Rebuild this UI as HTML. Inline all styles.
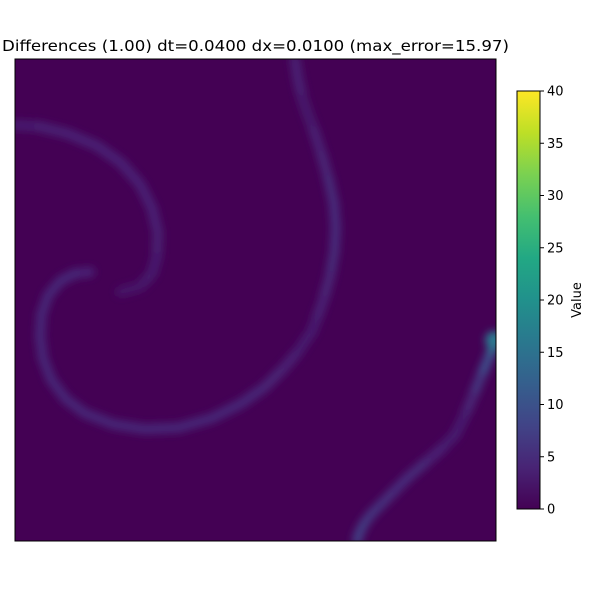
<!DOCTYPE html>
<html><head><meta charset="utf-8"><style>
body{margin:0;background:#fff;font-family:"DejaVu Sans","Liberation Sans",sans-serif}
</style></head><body>
<svg id="chart" width="600" height="600" viewBox="0 0 600 600" xmlns="http://www.w3.org/2000/svg" font-family="DejaVu Sans, Liberation Sans, sans-serif">
<defs>
<filter id="blur" x="-20%" y="-20%" width="140%" height="140%"><feGaussianBlur stdDeviation="4"/></filter>
<clipPath id="plotclip"><rect x="15" y="59" width="481" height="482"/></clipPath>
<linearGradient id="viridis" x1="0" y1="1" x2="0" y2="0">
<stop offset="0" stop-color="#440154"/><stop offset="0.1" stop-color="#482475"/><stop offset="0.2" stop-color="#414487"/>
<stop offset="0.3" stop-color="#355f8d"/><stop offset="0.4" stop-color="#2a788e"/><stop offset="0.5" stop-color="#21918c"/>
<stop offset="0.6" stop-color="#22a884"/><stop offset="0.7" stop-color="#44bf70"/><stop offset="0.8" stop-color="#7ad151"/>
<stop offset="0.9" stop-color="#bddf26"/><stop offset="1" stop-color="#fde725"/></linearGradient>
</defs>
<text x="2" y="51" font-size="15" textLength="507" lengthAdjust="spacingAndGlyphs" fill="#000">Differences (1.00) dt=0.0400 dx=0.0100 (max_error=15.97)</text>
<rect x="15" y="59" width="481" height="482" fill="#440154"/>
<g id="marks" clip-path="url(#plotclip)"><g id="marksblur" filter="url(#blur)"></g></g>
<rect x="15" y="59" width="481" height="482" fill="none" stroke="#000" stroke-width="1"/>
<rect x="517" y="91" width="23" height="418" fill="url(#viridis)" stroke="#000" stroke-width="1"/>
<g id="cbticks"></g>
<text transform="translate(581,300) rotate(-90)" font-size="13" text-anchor="middle">Value</text>
</svg>
<script>
// curves in plot-fraction coordinates (x from left, y from top) with field values
const curveA_x=[0,0.05,0.11,0.17,0.22,0.26,0.285,0.297,0.295,0.285,0.26,0.22];
const curveA_y=[0.137,0.140,0.155,0.180,0.215,0.26,0.31,0.36,0.41,0.445,0.472,0.483];
const curveA_v=[3,3.5,4,4,4,4,4,3.8,3.5,3.2,2.8,2.2];
const curveB_x=[0.156,0.125,0.095,0.069,0.055,0.052,0.058,0.075,0.105,0.145,0.205,0.27,0.34,0.41,0.47,0.52,0.56,0.59,0.61];
const curveB_y=[0.442,0.445,0.460,0.490,0.530,0.575,0.620,0.665,0.705,0.735,0.758,0.768,0.765,0.745,0.715,0.680,0.640,0.605,0.575];
const curveB_v=[3.5,4.5,4.5,4.5,4.5,4.5,4.5,4.5,4.5,4.5,4.5,4.5,4.5,4.5,4.5,4.3,4,3.5,3];
const curveC_x=[0.582,0.588,0.597,0.607,0.622,0.638,0.652,0.663,0.667,0.664,0.655,0.641,0.625,0.615];
const curveC_y=[0.002,0.04,0.08,0.11,0.15,0.2,0.25,0.3,0.35,0.4,0.45,0.5,0.545,0.57];
const curveC_v=[3.5,4,3.5,2.5,3.5,4,4.5,5,5,5,4.5,4,3.5,3];
const curveD_x=[1.0,0.985,0.968,0.952,0.935,0.915,0.885,0.85,0.815,0.785,0.76,0.74,0.725,0.715,0.711];
const curveD_y=[0.583,0.62,0.66,0.70,0.74,0.78,0.81,0.84,0.87,0.9,0.925,0.945,0.965,0.985,1.0];
const curveD_v=[16,11,7,5,3.5,3,3.5,4.5,5,5,5.5,6,6.5,7,7];
const curves=[[curveA_x,curveA_y,curveA_v],[curveB_x,curveB_y,curveB_v],[curveC_x,curveC_y,curveC_v],[curveD_x,curveD_y,curveD_v]];
const cbTicks=[0,5,10,15,20,25,30,35,40];
const vmax=40;
const stops=["#440154","#482475","#414487","#355f8d","#2a788e","#21918c","#22a884","#44bf70","#7ad151","#bddf26","#fde725"];
function hex(c){return [1,3,5].map(i=>parseInt(c.substr(i,2),16));}
function viridis(v){let t=Math.max(0,Math.min(1,v/vmax))*10;let i=Math.min(9,Math.floor(t));let f=t-i;
 let a=hex(stops[i]),b=hex(stops[i+1]);return "rgb("+a.map((x,k)=>Math.round(x+(b[k]-x)*f)).join(",")+")";}
const X=u=>15+u*481, Y=v=>59+v*482, CY=v=>509-v/vmax*418;
const ns="http://www.w3.org/2000/svg";
const g=document.getElementById('marksblur');
curves.forEach((c,ci)=>{
 for(let i=0;i<c[0].length-1;i++){
  const l=document.createElementNS(ns,'line');
  
  
  l.setAttribute('x1',X(c[0][i]));l.setAttribute('y1',Y(c[1][i]));
  l.setAttribute('x2',X(c[0][i+1]));l.setAttribute('y2',Y(c[1][i+1]));
  l.setAttribute('stroke',viridis((c[2][i]+c[2][i+1])/2));
  l.setAttribute('stroke-width','10');l.setAttribute('stroke-linecap','round');
  g.appendChild(l);
 }
 if(ci==3){
  const s=document.createElementNS(ns,'circle');
  
  
  s.setAttribute('cx',X(c[0][0])-2);s.setAttribute('cy',Y(c[1][0]));s.setAttribute('r',9);
  s.setAttribute('fill',viridis(c[2][0]));g.appendChild(s);
 }
});
const t=document.getElementById('cbticks');
cbTicks.forEach(v=>{
 const l=document.createElementNS(ns,'line');
 
 
 l.setAttribute('x1',540);l.setAttribute('x2',544);l.setAttribute('y1',CY(v));l.setAttribute('y2',CY(v));
 l.setAttribute('stroke','#000');t.appendChild(l);
 const tx=document.createElementNS(ns,'text');
 
 
 tx.setAttribute('x',547);tx.setAttribute('y',CY(v)+4.5);tx.setAttribute('font-size','13');
 tx.textContent=v;t.appendChild(tx);
});
</script>
</body></html>
